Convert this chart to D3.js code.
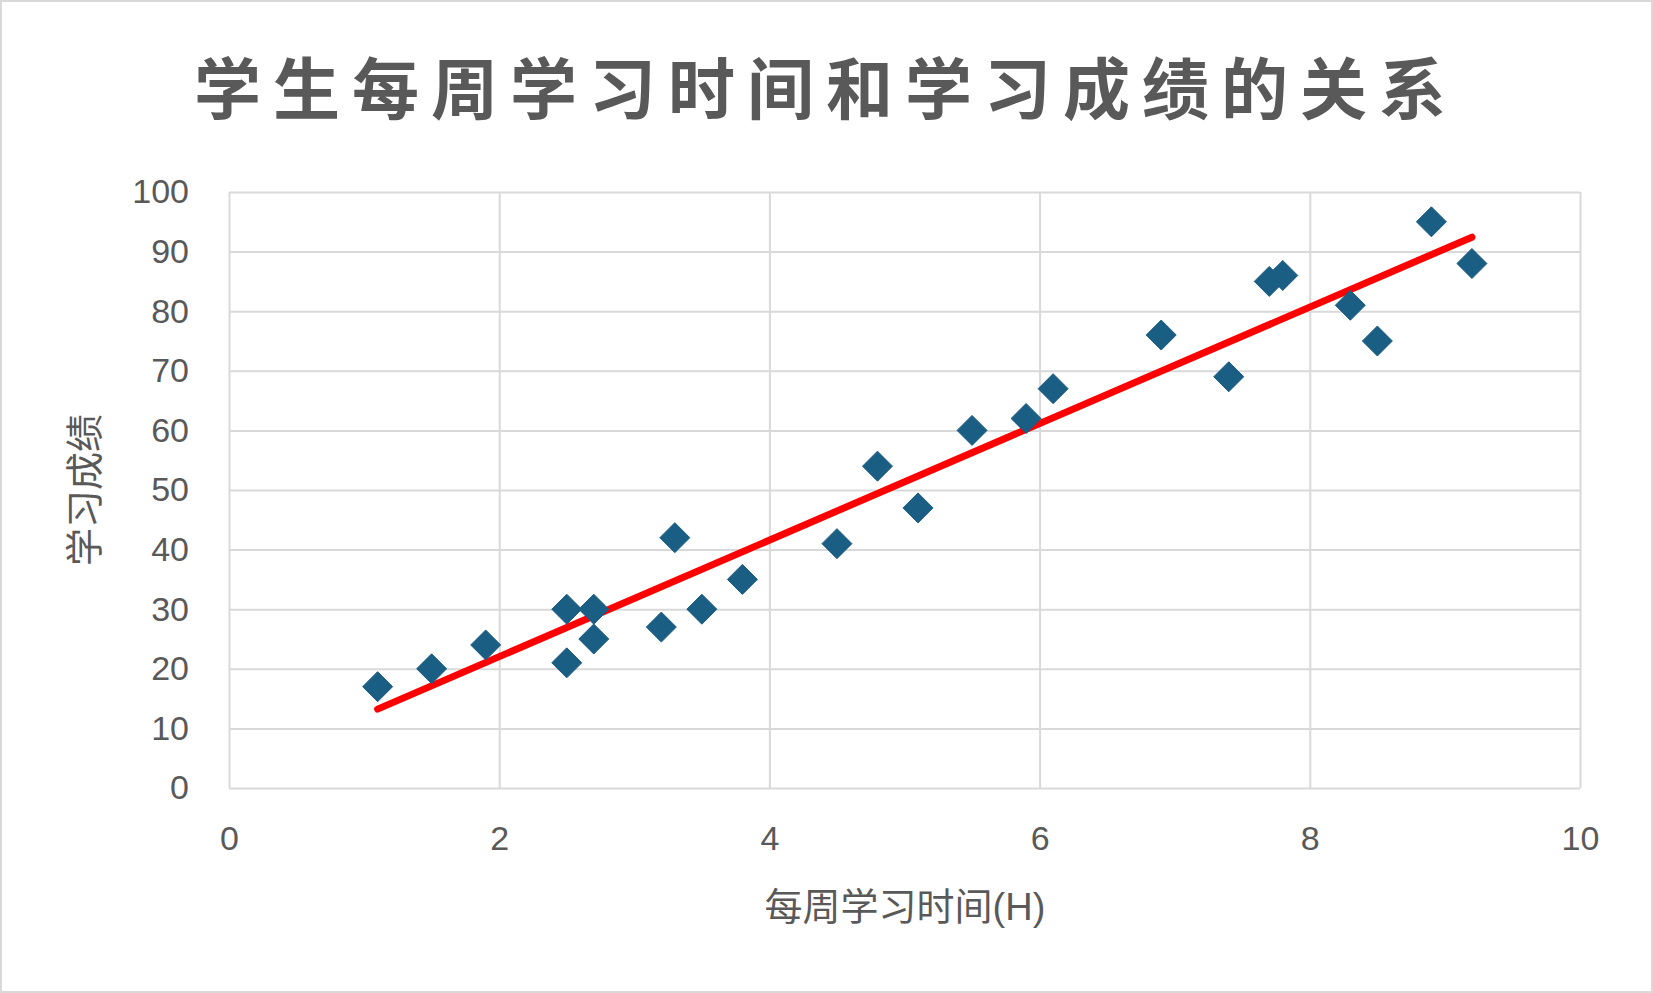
<!DOCTYPE html>
<html>
<head>
<meta charset="utf-8">
<script src="https://cdn.jsdelivr.net/npm/d3@7"></script>
<style>
    body { margin: 0; background: #fff; }
    text { font-family: "Open Sans", "Noto Sans CJK SC", sans-serif; }
</style>
</head>
<body>
<svg id="chart" width="1653" height="993"></svg>
<script>
// hours of study per week
var hours = [1.1, 1.5, 1.9, 2.5, 2.5, 2.7, 2.7, 3.2, 3.3, 3.5, 3.8, 4.5, 4.8,
             5.1, 5.5, 5.9, 6.1, 6.9, 7.4, 7.7, 7.8, 8.3, 8.5, 8.9, 9.2];
// matching scores
var scores = [17, 20, 24, 30, 21, 30, 25, 27, 42, 30, 35, 41, 54,
              47, 60, 62, 67, 76, 69, 85, 86, 81, 75, 95, 88];
var xTicks = [0, 2, 4, 6, 8, 10];
var yTicks = [0, 10, 20, 30, 40, 50, 60, 70, 80, 90, 100];

var chartTitle = "学生每周学习时间和学习成绩的关系",
    xTitle = "每周学习时间(H)",
    yTitle = "学习成绩";

window.onload = function()
{
    main();
};

function main()
{
    var svg = d3.select("#chart"),
        plot = { left: 229, right: 1580, top: 192, bottom: 788 },
        x = d3.scaleLinear().domain([0, 10]).range([plot.left, plot.right]),
        y = d3.scaleLinear().domain([0, 100]).range([plot.bottom, plot.top]),
        data = hours.map(function(h, i) { return { h: h, s: scores[i] }; });

    // outer frame
    svg.append("rect")
        .attr("x", 1).attr("y", 1)
        .attr("width", 1651).attr("height", 991)
        .attr("fill", "#fff")
        .attr("stroke", "#d9d9d9")
        .attr("stroke-width", 2);

    // title
    svg.append("text")
        .attr("x", 826)
        .attr("y", 114)
        .attr("text-anchor", "middle")
        .attr("fill", "#595959")
        .attr("font-size", 67)
        .attr("font-weight", "bold")
        .attr("letter-spacing", 12)
        .style("font-family", "'Noto Sans CJK SC', sans-serif")
        .text(chartTitle);

    // horizontal gridlines
    svg.append("g")
        .attr("transform", "translate(" + plot.left + ",0)")
        .call(d3.axisLeft(y).tickValues(yTicks).tickSize(-(plot.right - plot.left)).tickFormat(""))
        .call(function(g)
        {
            g.select(".domain").remove();
            g.selectAll("line").attr("stroke", "#d9d9d9").attr("stroke-width", 2);
        });

    // vertical gridlines
    svg.append("g")
        .attr("transform", "translate(0," + plot.bottom + ")")
        .call(d3.axisBottom(x).tickValues(xTicks).tickSize(-(plot.bottom - plot.top)).tickFormat(""))
        .call(function(g)
        {
            g.select(".domain").remove();
            g.selectAll("line").attr("stroke", "#d9d9d9").attr("stroke-width", 2);
        });

    // y tick labels
    svg.append("g")
        .attr("transform", "translate(" + (plot.left - 40) + ",0)")
        .call(d3.axisLeft(y).tickValues(yTicks).tickSize(0).tickPadding(0))
        .call(function(g)
        {
            g.select(".domain").remove();
            g.selectAll("text")
                .attr("fill", "#595959")
                .attr("font-size", 34)
                .style("font-family", "'Liberation Sans', sans-serif");
        });

    // x tick labels
    svg.append("g")
        .attr("transform", "translate(0," + (plot.bottom + 38) + ")")
        .call(d3.axisBottom(x).tickValues(xTicks).tickSize(0).tickPadding(0))
        .call(function(g)
        {
            g.select(".domain").remove();
            g.selectAll("text")
                .attr("fill", "#595959")
                .attr("font-size", 34)
                .style("font-family", "'Liberation Sans', sans-serif");
        });

    // axis titles
    svg.append("text")
        .attr("x", 905)
        .attr("y", 920)
        .attr("text-anchor", "middle")
        .attr("fill", "#595959")
        .attr("font-size", 38)
        .style("font-family", "'Liberation Sans', 'Noto Sans CJK SC', sans-serif")
        .text(xTitle);

    svg.append("text")
        .attr("transform", "translate(98," + 490 + ") rotate(-90)")
        .attr("text-anchor", "middle")
        .attr("fill", "#595959")
        .attr("font-size", 38)
        .style("font-family", "'Noto Sans CJK SC', sans-serif")
        .text(yTitle);

    // linear trendline (least squares over the points)
    var mx = d3.mean(hours),
        my = d3.mean(scores),
        sxy = d3.sum(data, function(d) { return (d.h - mx) * (d.s - my); }),
        sxx = d3.sum(data, function(d) { return (d.h - mx) * (d.h - mx); }),
        slope = sxy / sxx,
        icept = my - slope * mx,
        ends = d3.extent(hours);

    svg.append("line")
        .attr("x1", x(ends[0])).attr("y1", y(icept + slope * ends[0]))
        .attr("x2", x(ends[1])).attr("y2", y(icept + slope * ends[1]))
        .attr("stroke", "#ff0000")
        .attr("stroke-width", 7)
        .attr("stroke-linecap", "round");

    // diamond markers
    var diamond = "M0,-15L15,0L0,15L-15,0Z";
    svg.append("g")
        .selectAll("path")
        .data(data)
        .enter()
        .append("path")
        .attr("d", diamond)
        .attr("transform", function(d) { return "translate(" + x(d.h) + "," + y(d.s) + ")"; })
        .attr("fill", "#1b5e84")
        .attr("stroke", "#1b5e84")
        .attr("stroke-width", 1)
        .attr("stroke-linejoin", "round");
}
</script>
</body>
</html>
